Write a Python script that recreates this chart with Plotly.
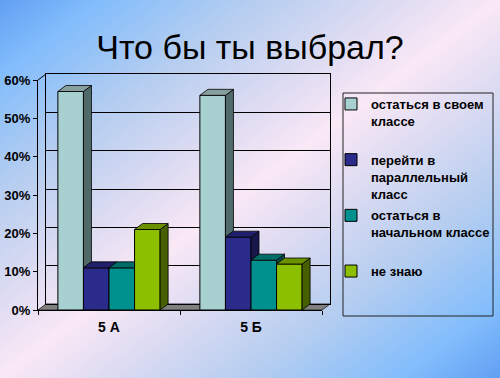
import base64
import plotly.graph_objects as go

# ---------------- data ----------------
categories = ["5 А", "5 Б"]
series_names = [
    "остаться в своем классе",
    "перейти в параллельный класс",
    "остаться в начальном классе",
    "не знаю",
]
legend_labels = [
    "остаться в своем<br>классе<br> ",
    "перейти в<br>параллельный<br>класс",
    "остаться в<br>начальном классе<br> ",
    "не знаю",
]
stay_own_class = [57, 56]
parallel_class = [11, 19]
stay_primary_class = [11, 13]
dont_know = [21, 12]
y_tick_values = [0, 10, 20, 30, 40, 50, 60]
y_tick_labels = [f"{v}%" for v in y_tick_values]

series_values = [stay_own_class, parallel_class, stay_primary_class, dont_know]

# ---------------- style ----------------
front_colors = ["#a8d0d0", "#2b2b8c", "#00908e", "#8cbf00"]
side_colors = ["#506a6a", "#17174c", "#004a4a", "#465f00"]
top_colors = ["#879e9e", "#1f1f6c", "#006c6a", "#6b9100"]

W, H = 500, 378
L, R, T, B = 38, 170, 74, 68
PW = W - L - R
PH = H - T - B
DX, DY = 8, 6  # 3-D depth in pixels
BARGAP = 0.28
NS = len(series_values)
BW = (1 - BARGAP) / NS
x_range = [-0.5, 1.5]
y_range = [0, 60]
front_w = PW - DX
front_h = PH - DY
dxu = DX / front_w * (x_range[1] - x_range[0])
dyu = DY / front_h * (y_range[1] - y_range[0])

FONT = "Liberation Sans, Arial, sans-serif"

fig = go.Figure()

# invisible trace so the back-wall subplot exists
fig.add_trace(go.Scatter(x=[0], y=[0], xaxis="x", yaxis="y", mode="markers",
                         marker=dict(opacity=0), showlegend=False, hoverinfo="skip"))

# front faces of bars
for i in range(NS):
    fig.add_trace(go.Bar(
        x=list(range(len(categories))), y=series_values[i], name=legend_labels[i],
        xaxis="x2", yaxis="y2", legendgroup=f"g{i}",
        marker=dict(color=front_colors[i], line=dict(color="black", width=1)),
        hovertext=[f"{series_names[i]}: {v}%" for v in series_values[i]],
        hoverinfo="text",
    ))

# side and top faces, computed from values
for ci in range(len(categories)):
    for i in range(NS):
        h = series_values[i][ci]
        hn = series_values[i + 1][ci] if i + 1 < NS else None
        xl = ci - (1 - BARGAP) / 2 + BW * i
        xr = xl + BW
        lo = 0 if hn is None else min(hn, h)
        if h > lo:
            xs = [xr, xr, xr + dxu, xr + dxu, xr]
            ys = [lo, h, h + dyu, lo + dyu, lo]
            fig.add_trace(go.Scatter(x=xs, y=ys, xaxis="x2", yaxis="y2", mode="lines",
                                     fill="toself", fillcolor=side_colors[i],
                                     line=dict(color="black", width=0.8),
                                     showlegend=False, hoverinfo="skip"))
        if hn is None or hn <= h:
            xs = [xl, xr, xr + dxu, xl + dxu, xl]
            ys = [h, h, h + dyu, h + dyu, h]
        else:
            xs = [xl, xr, xr, xl + dxu, xl]
            ys = [h, h, h + dyu, h + dyu, h]
        fig.add_trace(go.Scatter(x=xs, y=ys, xaxis="x2", yaxis="y2", mode="lines",
                                 fill="toself", fillcolor=top_colors[i],
                                 line=dict(color="black", width=0.8),
                                 showlegend=False, hoverinfo="skip"))

# background gradient
svg = (
    '<svg xmlns="http://www.w3.org/2000/svg" width="500" height="378" viewBox="0 0 500 378" '
    'preserveAspectRatio="none"><defs><linearGradient id="g" x1="0" y1="0" x2="1" y2="1">'
    '<stop offset="0" stop-color="#629ff2"/>'
    '<stop offset="0.1" stop-color="#82bdfc"/>'
    '<stop offset="0.25" stop-color="#b4cdf0"/>'
    '<stop offset="0.4" stop-color="#dedcf2"/>'
    '<stop offset="0.5" stop-color="#fae8f6"/>'
    '<stop offset="0.6" stop-color="#dedcf2"/>'
    '<stop offset="0.75" stop-color="#b4cdf0"/>'
    '<stop offset="0.9" stop-color="#82bdfc"/>'
    '<stop offset="1" stop-color="#629ff2"/>'
    '</linearGradient></defs><rect width="500" height="378" fill="url(#g)"/></svg>'
)
bg_src = "data:image/svg+xml;base64," + base64.b64encode(svg.encode()).decode()

fx = front_w / PW
fy = front_h / PH
bx = DX / PW
by = DY / PH

shapes = [
    # floor
    dict(type="path", xref="paper", yref="paper", layer="below",
         path=f"M 0,0 L {fx},0 L 1,{by} L {bx},{by} Z",
         fillcolor="#808080", line=dict(color="#333333", width=1)),
    # left wall top edge
    dict(type="line", xref="paper", yref="paper", x0=0, y0=fy, x1=bx, y1=1,
         line=dict(color="black", width=1)),
    # legend box
    dict(type="rect", xref="paper", yref="paper",
         x0=(343 - L) / PW, x1=(493 - L) / PW,
         y0=(PH + T - 316) / PH, y1=(PH + T - 93) / PH,
         line=dict(color="#222222", width=1), fillcolor="rgba(0,0,0,0)"),
]

fig.update_layout(
    width=W, height=H, autosize=False,
    margin=dict(l=L, r=R, t=T, b=B, pad=0, autoexpand=False),
    paper_bgcolor="#c8d8ee", plot_bgcolor="rgba(0,0,0,0)",
    barmode="group", bargap=BARGAP, bargroupgap=0,
    title=dict(text="Что бы ты выбрал?", x=0.5, xanchor="center", xref="container",
               y=1 - 47 / H, yanchor="middle", yref="container",
               font=dict(family=FONT, size=34, color="black")),
    showlegend=True,
    legend=dict(x=331 / W, y=1 - 89 / H, xref="container", yref="container",
                xanchor="left", yanchor="top", maxheight=360,
                bgcolor="rgba(0,0,0,0)", borderwidth=0, traceorder="grouped",
                valign="top", tracegroupgap=2, itemwidth=30,
                font=dict(family=FONT, size=13, color="black", weight="bold")),
    images=[dict(source=bg_src, xref="paper", yref="paper", x=-L / PW, y=1 + T / PH,
                 sizex=W / PW, sizey=H / PH, xanchor="left", yanchor="top",
                 sizing="stretch", layer="below")],
    shapes=shapes,
    xaxis=dict(domain=[bx, 1], range=x_range, anchor="y", showline=True, mirror=True,
               linecolor="black", linewidth=1, showgrid=False, zeroline=False,
               showticklabels=False, ticks=""),
    yaxis=dict(domain=[by, 1], range=y_range, anchor="x", tickmode="array",
               tickvals=y_tick_values, showgrid=True, gridcolor="black", gridwidth=1,
               showline=True, mirror=True, linecolor="black", linewidth=1,
               showticklabels=False, ticks="", zeroline=False),
    xaxis2=dict(domain=[0, fx], range=x_range, anchor="y2", tickmode="array",
                tickvals=list(range(len(categories))), ticktext=categories, ticks="",
                ticklabelstandoff=4,
                showline=True, linecolor="black", linewidth=1, showgrid=False,
                zeroline=False,
                tickfont=dict(family=FONT, size=14, color="black", weight="bold"),
                minor=dict(tickmode="array", tickvals=[-0.5, 0.5, 1.5], ticks="outside",
                           ticklen=4, tickcolor="black", showgrid=False)),
    yaxis2=dict(domain=[0, fy], range=y_range, anchor="x2", tickmode="array",
                tickvals=y_tick_values, ticktext=y_tick_labels, ticks="outside",
                ticklen=4, tickcolor="black", showline=True, linecolor="black",
                linewidth=1, showgrid=False, zeroline=False,
                tickfont=dict(family=FONT, size=13, color="black", weight="bold")),
)

fig.write_html(
    "out.html",
    config={"displayModeBar": False},
    post_script="document.body.style.margin='0';document.body.style.overflow='hidden';",
)
